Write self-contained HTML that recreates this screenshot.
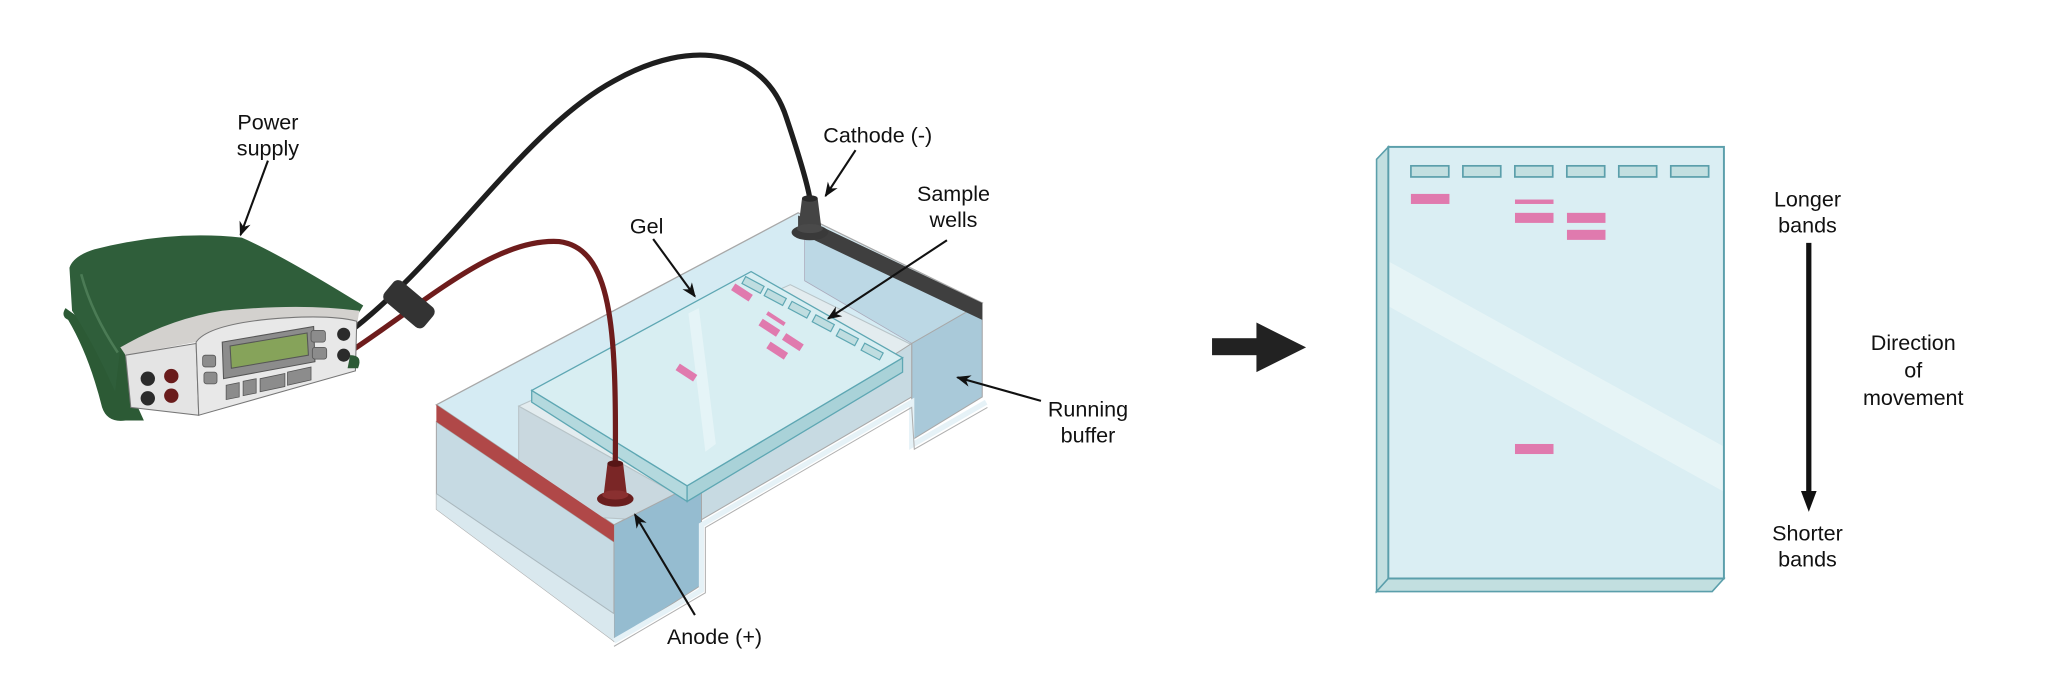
<!DOCTYPE html>
<html><head><meta charset="utf-8"><style>
html,body{margin:0;padding:0;background:#fff;}
svg{display:block;}
text{font-family:"Liberation Sans",sans-serif;font-size:16.5px;fill:#111;text-anchor:middle;}
</style></head><body>
<svg width="2048" height="696" viewBox="0 0 1568 533" xmlns="http://www.w3.org/2000/svg">
<defs>
<marker id="ah" viewBox="0 0 10 10" refX="9" refY="5" markerWidth="7" markerHeight="7" orient="auto"><path d="M0,1 L10,5 L0,9 L3,5 Z" fill="#111"/></marker>
</defs>
<rect width="1568" height="533" fill="#fff"/>

<!-- ===== Tank ===== -->
<!-- top water surface -->
<polygon points="334,310 611,163 752,232 698,263 537,367 470,402" fill="#d5ebf3" stroke="#a8a8a8" stroke-width="1"/>
<!-- right chamber interior -->
<polygon points="616,178 752,244 752,304 700,290 698,263 616,215" fill="#bcd8e5" stroke="#aab" stroke-width="0.6"/>
<!-- platform -->
<polygon points="397,311 605,218 698,264 526,383" fill="#e3ecef" stroke="#b8c4c8" stroke-width="0.8"/>
<polygon points="397,311 526,383 526,400 397,393" fill="#c9d8df" stroke="#b8c4c8" stroke-width="0.8"/>
<!-- near faces -->
<polygon points="698,263 752,232 752,304 698,337" fill="#a9c9d9" stroke="#a8a8a8" stroke-width="0.8"/>
<polygon points="537,367 698,263 698,304 537,398" fill="#c7dae2" stroke="#a8a8a8" stroke-width="0.8"/>
<polygon points="470,402 537,368 537,448 470,491" fill="#95bcd0" stroke="#a8a8a8" stroke-width="0.8"/>
<polygon points="334,323 470,415 470,491 334,390" fill="#c6dae3" stroke="#a8a8a8" stroke-width="0.8"/>
<polygon points="334,378 470,470 470,491 334,390" fill="#d9e8ee"/>
<line x1="334" y1="378" x2="470" y2="470" stroke="#aab8be" stroke-width="0.8"/>
<!-- outer glass rim lines -->
<polyline points="470,491 537,452 537,402 698,308 698,341 755,308" fill="none" stroke="#e6f2f7" stroke-width="4"/>
<polyline points="470,495 540,454 540,404 698,312 700,344 756,312" fill="none" stroke="#b0b0b0" stroke-width="0.8"/>
<!-- red band -->
<polygon points="334,310 470,402 470,415 334,323" fill="#b04848"/>
<!-- dark band -->
<polygon points="611,165 752,232 752,245 611,178" fill="#3f3f3f"/>

<!-- Gel slab -->
<polygon points="407,299 526,372 526,384 407,308" fill="#b4d9de" stroke="#5ea7b3" stroke-width="1"/>
<polygon points="526,372 691,274 691,285 526,384" fill="#a9d2d8" stroke="#5ea7b3" stroke-width="1"/>
<polygon points="407,299 575,208 691,274 526,372" fill="#d8eef2" stroke="#5ea7b3" stroke-width="1"/>
<polygon points="527,240 535,236 548,340 540,346" fill="#e8f5f7" opacity="0.8"/>
<!-- wells -->
<g fill="#bfdde0" stroke="#5ea7b3" stroke-width="0.9">
<rect x="-8" y="-3" width="16" height="6" transform="translate(576.5,218.2) rotate(28)"/>
<rect x="-8" y="-3" width="16" height="6" transform="translate(593.5,227.5) rotate(28)"/>
<rect x="-8" y="-3" width="16" height="6" transform="translate(612,237.2) rotate(28)"/>
<rect x="-8" y="-3" width="16" height="6" transform="translate(630.3,247.5) rotate(28)"/>
<rect x="-8" y="-3" width="16" height="6" transform="translate(648.7,258.3) rotate(28)"/>
<rect x="-8" y="-3" width="16" height="6" transform="translate(667.7,269.2) rotate(28)"/>
</g>
<g fill="#e07aae">
<rect x="-8" y="-3" width="16" height="6" transform="translate(568,224) rotate(33)"/>
<rect x="-8" y="-1.5" width="16" height="3" transform="translate(594,244) rotate(33)"/>
<rect x="-8" y="-3" width="16" height="6" transform="translate(589,251) rotate(33)"/>
<rect x="-8" y="-3" width="16" height="6" transform="translate(607,262) rotate(33)"/>
<rect x="-8" y="-3" width="16" height="6" transform="translate(595,268.5) rotate(33)"/>
<rect x="-8" y="-3" width="16" height="6" transform="translate(525.5,285.3) rotate(33)"/>
</g>

<!-- wires -->
<path d="M265,256 C340,200 400,100 470,62 C530,28 585,38 602,90 C612,120 618,140 620,152" fill="none" stroke="#1e1e1e" stroke-width="4"/>
<path d="M267,270 C330,228 380,182 428,185 C468,190 472,250 471,355" fill="none" stroke="#6e1c1c" stroke-width="4"/>
<!-- clamp -->
<rect x="-10" y="-20" width="20" height="40" rx="5" fill="#333" transform="translate(313,233) rotate(-50)"/>
<!-- cathode -->
<path d="M614,152 L626,152 L629,176 L611,176 Z" fill="#444"/>
<ellipse cx="620" cy="178" rx="14" ry="6" fill="#3a3a3a"/>
<ellipse cx="620" cy="175" rx="10" ry="3.5" fill="#4a4a4a"/>
<ellipse cx="620" cy="152" rx="6" ry="2.5" fill="#2a2a2a"/>
<!-- anode -->
<path d="M465,355 L477,355 L480,380 L462,380 Z" fill="#7a2626"/>
<ellipse cx="471" cy="382" rx="14" ry="6" fill="#6a1e1e"/>
<ellipse cx="471" cy="379" rx="10" ry="3.5" fill="#8a3030"/>
<ellipse cx="471" cy="355" rx="6" ry="2.5" fill="#561616"/>

<!-- ===== Power supply ===== -->
<path d="M50,236 Q46,242 52,245 Q68,272 78,312 Q82,324 96,322 L110,322 L100,300 L95,268 Z" fill="#2c5a35"/>
<path d="M53,205 Q56,196 72,191 Q130,176 185,182 Q215,195 278,234 L272,244 Q200,236 155,246 Q110,258 92,266 L88,300 Q70,260 55,238 Z" fill="#2f5e3a"/>
<path d="M62,210 Q70,240 90,270" fill="none" stroke="#4b7b55" stroke-width="2"/>
<path d="M92,266 Q130,244 170,238 Q230,232 275,238 L273,250 Q200,246 150,262 L96,272 Z" fill="#d3d1ce"/>
<polygon points="96,272 150,263 152,318 100,312" fill="#e4e4e4" stroke="#777" stroke-width="0.8"/>
<path d="M150,262 Q158,250 200,245 Q250,240 273,246 L272,284 L152,318 Z" fill="#e8e8e8" stroke="#777" stroke-width="0.8"/>
<polygon points="170,262 240,250 241,277 171,290" fill="#8c8c8c" stroke="#555" stroke-width="0.8"/>
<polygon points="176,265 235,255 236,272 177,282" fill="#86a35a" stroke="#555" stroke-width="0.8"/>
<g fill="#8c8c8c" stroke="#555" stroke-width="0.6">
<rect x="155" y="272" width="10" height="9" rx="2"/><rect x="156" y="285" width="10" height="9" rx="2"/>
<rect x="238" y="253" width="11" height="9" rx="2"/><rect x="239" y="266" width="11" height="9" rx="2"/>
<polygon points="173,295 183,293 183,304 173,306"/><polygon points="186,292 196,290 196,301 186,303"/>
<polygon points="199,290 218,286 218,296 199,300"/><polygon points="220,285 238,281 238,291 220,295"/>
</g>
<circle cx="113" cy="290" r="5.5" fill="#2b2b2b"/><circle cx="113" cy="305" r="5.5" fill="#2b2b2b"/>
<circle cx="131" cy="288" r="5.5" fill="#6a1c1c"/><circle cx="131" cy="303" r="5.5" fill="#6a1c1c"/>
<circle cx="263" cy="256" r="5" fill="#2b2b2b"/><circle cx="263" cy="272" r="5" fill="#2b2b2b"/>
<path d="M268,272 Q278,272 274,282 L266,282 Z" fill="#2c5a35"/>

<!-- ===== Labels & arrows (left) ===== -->
<g stroke="#111" stroke-width="1.6" fill="none" marker-end="url(#ah)">
<line x1="205" y1="123" x2="184" y2="180"/>
<line x1="655" y1="115" x2="632" y2="150"/>
<line x1="500" y1="183" x2="532" y2="227"/>
<line x1="725" y1="184" x2="634" y2="244"/>
<line x1="797" y1="307" x2="733" y2="289"/>
<line x1="532" y1="471" x2="486" y2="394"/>
</g>
<text x="205" y="99">Power</text><text x="205" y="119">supply</text>
<text x="672" y="109">Cathode (-)</text>
<text x="495" y="179">Gel</text>
<text x="730" y="154">Sample</text><text x="730" y="174">wells</text>
<text x="833" y="319">Running</text><text x="833" y="339">buffer</text>
<text x="547" y="493">Anode (+)</text>

<!-- big arrow -->
<rect x="928" y="259" width="36" height="13" fill="#222"/>
<polygon points="962,247 1000,266 962,285" fill="#222"/>

<!-- ===== Right gel ===== -->
<polygon points="1054,122 1063,112.5 1063,443 1054,453" fill="#c2dfe0" stroke="#5b9fab" stroke-width="1.2"/>
<polygon points="1054,453 1063,443 1320,443 1311,453" fill="#c2dfe0" stroke="#5b9fab" stroke-width="1.2"/>
<rect x="1063" y="112.5" width="257" height="330.5" fill="#daeef3" stroke="#5b9fab" stroke-width="1.5"/>
<polygon points="1064,200.6 1319,341.5 1319,376 1064,235" fill="#e6f4f6"/>
<g fill="#c2dfe0" stroke="#5b9fab" stroke-width="1.3">
<rect x="1080.3" y="127" width="29" height="8.5"/>
<rect x="1120.1" y="127" width="29" height="8.5"/>
<rect x="1159.9" y="127" width="29" height="8.5"/>
<rect x="1199.7" y="127" width="29" height="8.5"/>
<rect x="1239.5" y="127" width="29" height="8.5"/>
<rect x="1279.3" y="127" width="29" height="8.5"/>
</g>
<g fill="#e07aae">
<rect x="1080.3" y="148.5" width="29.5" height="7.7"/>
<rect x="1160" y="152.8" width="29.5" height="3.4"/>
<rect x="1160" y="163" width="29.5" height="7.7"/>
<rect x="1199.8" y="163" width="29.5" height="7.7"/>
<rect x="1199.8" y="176" width="29.5" height="7.7"/>
<rect x="1160" y="340" width="29.5" height="7.7"/>
</g>

<!-- right labels -->
<text x="1384" y="158">Longer</text><text x="1384" y="178">bands</text>
<line x1="1385" y1="186" x2="1385" y2="378" stroke="#111" stroke-width="4"/>
<polygon points="1379,376 1391,376 1385,392" fill="#111"/>
<text x="1384" y="414">Shorter</text><text x="1384" y="434">bands</text>
<text x="1465" y="268">Direction</text><text x="1465" y="289">of</text><text x="1465" y="310">movement</text>
</svg>
</body></html>
